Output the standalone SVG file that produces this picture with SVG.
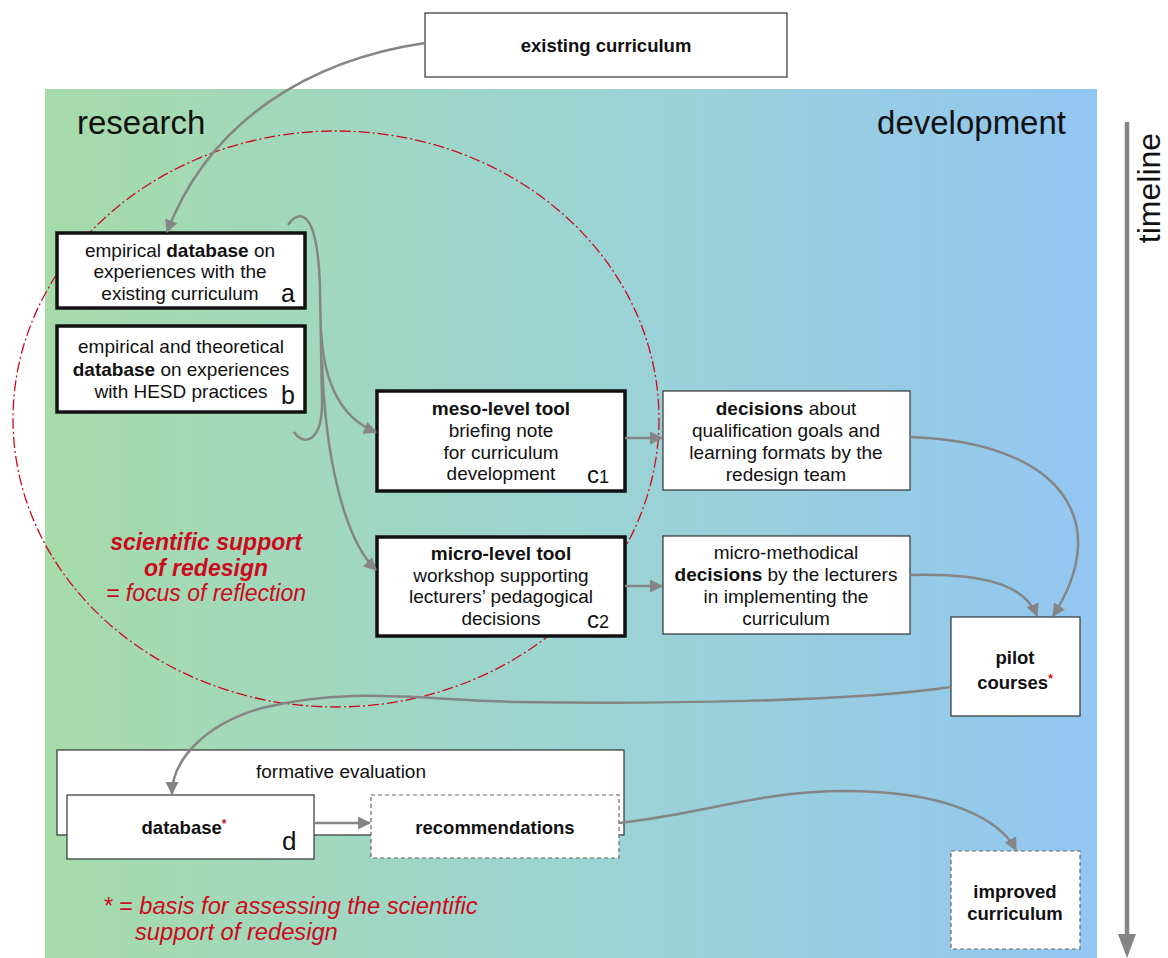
<svg xmlns="http://www.w3.org/2000/svg" width="1168" height="958" viewBox="0 0 1168 958">
<defs>
<linearGradient id="bg" x1="0" y1="0" x2="1" y2="0">
<stop offset="0" stop-color="#a6dba9"/>
<stop offset="0.5" stop-color="#9cd4d2"/>
<stop offset="1" stop-color="#93c6f2"/>
</linearGradient>
<marker id="ah" viewBox="0 0 12 12" refX="11" refY="6" markerWidth="13" markerHeight="13" markerUnits="userSpaceOnUse" orient="auto">
<path d="M0,0 L12,6 L0,12 z" fill="#858585"/>
</marker>
</defs>
<style>
text{font-family:"Liberation Sans",Arial,sans-serif;fill:#111;}
.t{font-size:19px;text-anchor:middle;}
.bl{font-size:18.5px;font-weight:bold;text-anchor:middle;}
.b{font-weight:bold;}
.lbl{font-size:25px;}
.box{fill:#fff;stroke:#333;stroke-width:1.2;}
.thick{fill:#fff;stroke:#111;stroke-width:3.5;}
.dash{fill:#fff;stroke:#666;stroke-width:1.2;stroke-dasharray:4 3;}
.red{fill:#cc0a1e;font-style:italic;font-size:23px;}
.note{font-size:23.7px;}
.conn{fill:none;stroke:#858585;stroke-width:2.5;}
</style>
<rect x="45" y="89" width="1052" height="869" fill="url(#bg)"/>
<text x="77" y="134" font-size="33">research</text>
<text x="1066" y="134" font-size="33" text-anchor="end">development</text>
<ellipse cx="336" cy="419" rx="323" ry="288" fill="none" stroke="#cc0a1e" stroke-width="1.3" stroke-dasharray="11 3 2 3"/>
<g id="timeline">
<line x1="1127" y1="122" x2="1127" y2="935" stroke="#858585" stroke-width="4.5"/>
<path d="M1118,934 L1136,934 L1127,958 z" fill="#858585"/>
<text transform="translate(1160,188) rotate(-90)" font-size="32" text-anchor="middle">timeline</text>
</g>
<g id="existing">
<rect class="box" x="425" y="13" width="362" height="64"/>
<text class="bl" x="606" y="52">existing curriculum</text>
</g>
<g id="node-a">
<rect class="thick" x="57" y="233" width="248" height="75"/>
<text class="t" x="180" y="257">empirical <tspan class="b">database</tspan> on</text>
<text class="t" x="180" y="278">experiences with the</text>
<text class="t" x="180" y="300">existing curriculum</text>
<text class="lbl" x="281" y="302">a</text>
</g>
<g id="node-b">
<rect class="thick" x="57" y="326" width="248" height="86"/>
<text class="t" x="181" y="353">empirical and theoretical</text>
<text class="t" x="181" y="376"><tspan class="b">database</tspan> on experiences</text>
<text class="t" x="181" y="398">with HESD practices</text>
<text class="lbl" x="281" y="404">b</text>
</g>
<g id="node-c1">
<rect class="thick" x="377" y="391" width="248" height="100"/>
<text class="t b" x="501" y="415">meso-level tool</text>
<text class="t" x="501" y="437">briefing note</text>
<text class="t" x="501" y="459">for curriculum</text>
<text class="t" x="501" y="480">development</text>
<text x="587" y="483" font-size="24">c<tspan font-size="18">1</tspan></text>
</g>
<g id="node-c2">
<rect class="thick" x="377" y="537" width="248" height="99"/>
<text class="t b" x="501" y="560">micro-level tool</text>
<text class="t" x="501" y="582">workshop supporting</text>
<text class="t" x="501" y="603">lecturers’ pedagogical</text>
<text class="t" x="501" y="625">decisions</text>
<text x="587" y="628" font-size="24">c<tspan font-size="18">2</tspan></text>
</g>
<g id="node-decisions">
<rect class="box" x="663" y="391" width="247" height="99"/>
<text class="t" x="786" y="415"><tspan class="b">decisions</tspan> about</text>
<text class="t" x="786" y="437">qualification goals and</text>
<text class="t" x="786" y="459">learning formats by the</text>
<text class="t" x="786" y="481">redesign team</text>
</g>
<g id="node-micro">
<rect class="box" x="663" y="536" width="247" height="98"/>
<text class="t" x="786" y="559">micro-methodical</text>
<text class="t" x="786" y="581"><tspan class="b">decisions</tspan> by the lecturers</text>
<text class="t" x="786" y="603">in implementing the</text>
<text class="t" x="786" y="625">curriculum</text>
</g>
<g id="node-pilot">
<rect class="box" x="951" y="617" width="129" height="99"/>
<text class="bl" x="1015" y="664">pilot</text>
<text class="bl" x="1015" y="689">courses<tspan fill="#cc0a1e" font-size="12" dy="-6">*</tspan></text>
</g>
<g id="node-formative">
<rect class="box" x="57" y="750" width="567" height="85"/>
<text x="256" y="778" font-size="18" textLength="170" lengthAdjust="spacingAndGlyphs">formative evaluation</text>
</g>
<g id="node-d">
<rect class="box" x="67" y="795" width="247" height="64"/>
<text class="bl" x="184" y="834">database<tspan fill="#cc0a1e" font-size="12" dy="-6">*</tspan></text>
<text x="282" y="850" font-size="26">d</text>
</g>
<g id="node-recommendations">
<rect class="dash" x="371" y="795" width="248" height="63"/>
<text class="bl" x="495" y="834">recommendations</text>
</g>
<g id="node-improved">
<rect class="dash" x="951" y="851" width="129" height="98"/>
<text class="bl" x="1015" y="898">improved</text>
<text class="bl" x="1015" y="920">curriculum</text>
</g>
<g id="notes">
<text class="red b" x="206" y="550" text-anchor="middle">scientific support</text>
<text class="red b" x="206" y="576" text-anchor="middle">of redesign</text>
<text class="red" x="206" y="601" text-anchor="middle">= focus of reflection</text>
<text class="red note" x="103" y="914">* = basis for assessing the scientific</text>
<text class="red note" x="135" y="940">support of redesign</text>
</g>
<g id="connectors">
<path class="conn" d="M425,43 C310,60 210,120 167,232" marker-end="url(#ah)"/>
<path class="conn" d="M288,225 C298,210 318,205 320,290 L322,400 C323,440 305,448 294,432"/>
<path class="conn" d="M321,330 C324,390 345,420 376,432" marker-end="url(#ah)"/>
<path class="conn" d="M322,360 C325,460 345,540 376,570" marker-end="url(#ah)"/>
<path class="conn" d="M625,438 L662,438" marker-end="url(#ah)"/>
<path class="conn" d="M625,586 L662,586" marker-end="url(#ah)"/>
<path class="conn" d="M910,437 C1060,442 1115,520 1053,616" marker-end="url(#ah)"/>
<path class="conn" d="M910,575 C985,573 1025,585 1037,616" marker-end="url(#ah)"/>
<path class="conn" d="M951,687 C850,702 650,704 520,702 C420,700 350,686 262,708 C205,724 172,760 172,794" marker-end="url(#ah)"/>
<path class="conn" d="M314,823 L370,823" marker-end="url(#ah)"/>
<path class="conn" d="M619,823 C700,815 760,790 850,791 C950,792 1000,820 1016,850" marker-end="url(#ah)"/>
</g>
</svg>
